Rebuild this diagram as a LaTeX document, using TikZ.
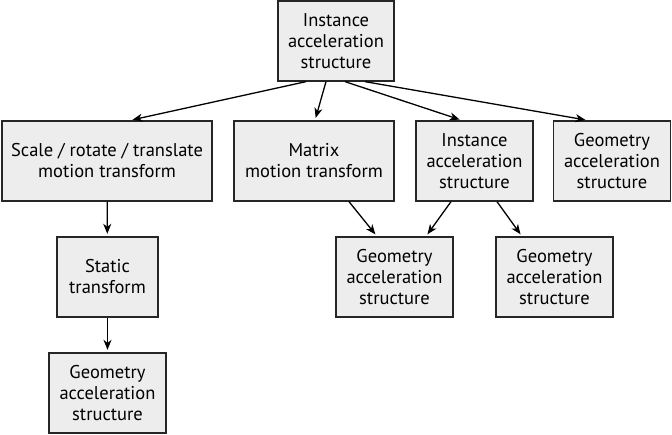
\documentclass[tikz,border=0pt]{standalone}
\usepackage{fontspec}
\setmainfont{PT Sans}
\usetikzlibrary{arrows.meta}
\begin{document}
\begin{tikzpicture}[x=1pt,y=-1pt,
  box/.style={draw=black!85,line width=1.3pt,fill=black!7,rectangle,align=center,
    minimum height=80pt,inner sep=0pt,font=\fontsize{18.5}{21}\selectfont},
  arr/.style={-{Stealth[length=10pt,width=8pt,inset=3pt]},line width=1.3pt,shorten >=2.5pt}]
\useasboundingbox (0,0) rectangle (672,435);
\node[box,minimum width=116pt] (top) at (336,41) {Instance\\acceleration\\structure};
\node[box,minimum width=210pt] (scale) at (107,161) {Scale / rotate / translate\\motion transform};
\node[box,minimum width=160pt] (matrix) at (314,161) {Matrix\\motion transform};
\node[box,minimum width=117pt] (inst) at (474.5,161) {Instance\\acceleration\\structure};
\node[box,minimum width=117pt] (geomR) at (612,161) {Geometry\\acceleration\\structure};
\node[box,minimum width=117pt] (geomM) at (394.5,277) {Geometry\\acceleration\\structure};
\node[box,minimum width=117pt] (geomRB) at (554.5,277) {Geometry\\acceleration\\structure};
\node[box,minimum width=101pt] (static) at (107.5,277) {Static\\transform};
\node[box,minimum width=117pt] (geomBL) at (107.5,393) {Geometry\\acceleration\\structure};
\draw[arr] ([xshift=-30pt]top.south) -- ([xshift=23pt]scale.north);
\draw[arr] ([xshift=-10pt]top.south) -- ([xshift=1pt]matrix.north);
\draw[arr] ([xshift=9pt]top.south) -- ([xshift=-12.5pt]inst.north);
\draw[arr] ([xshift=29pt]top.south) -- ([xshift=-24pt]geomR.north);
\draw[arr] ([xshift=35pt]matrix.south) -- ([xshift=-17.5pt]geomM.north);
\draw[arr] ([xshift=-23.5pt]inst.south) -- ([xshift=31.5pt]geomM.north);
\draw[arr] ([xshift=22.5pt]inst.south) -- ([xshift=-32.5pt]geomRB.north);
\draw[arr] (scale) -- (static);
\draw[arr] (static) -- (geomBL);
\end{tikzpicture}
\end{document}
